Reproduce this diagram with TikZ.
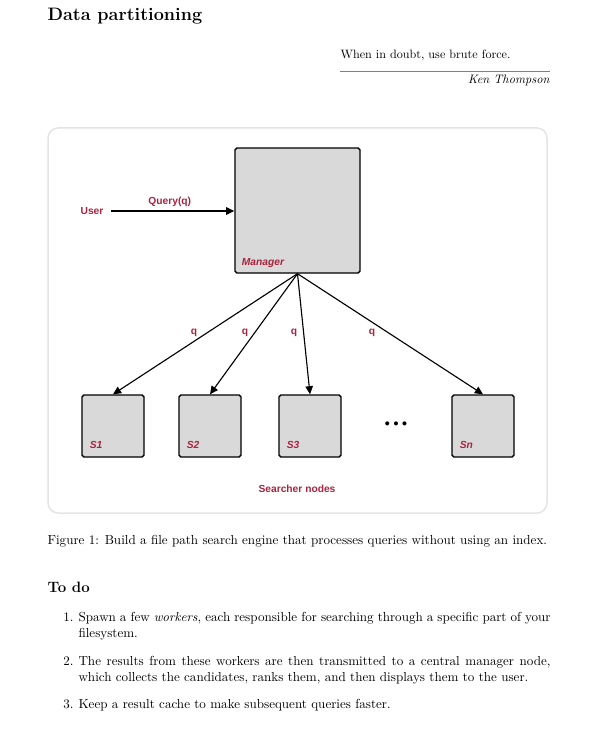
\documentclass[tikz,border=0pt]{standalone}
\usepackage{fontspec}
\setmainfont{Latin Modern Roman}
\newfontfamily\diagfont{Liberation Sans}
\usetikzlibrary{arrows.meta}

\definecolor{labelred}{RGB}{168,35,62}
\definecolor{boxgray}{RGB}{217,217,217}
\definecolor{framegray}{RGB}{228,228,228}

\begin{document}
\begin{tikzpicture}[x=0.8pt, y=-0.8pt, line width=0.9pt,
    >={Triangle[length=6.5pt, width=6pt]},
    box/.style={draw, fill=boxgray, rounded corners=1.5pt, line width=1.1pt, inner sep=0pt},
    lbl/.style={text=labelred, font=\diagfont\bfseries\fontsize{8.2}{9}\selectfont, inner sep=1pt},
    boxlbl/.style={lbl, font=\diagfont\bfseries\itshape\fontsize{8.2}{9}\selectfont, anchor=base west, inner sep=0pt},
    txt/.style={anchor=base west, inner sep=0pt, font=\fontsize{10.45}{12.5}\selectfont},
    num/.style={txt, anchor=base east}]

    \useasboundingbox (0,0) rectangle (589,743);

    % Page text
    \node (title) [txt, font=\Large\bfseries] at (47,21) {Data partitioning};
    \node (quote) [txt, font=\fontsize{9.7}{12}\selectfont] at (340,59) {When in doubt, use brute force.};
    \coordinate (rulel) at (340,71);
    \coordinate (ruler) at (550,71);
    \draw[gray, line width=0.5pt] (rulel) -- (ruler);
    \node (author) [txt, anchor=base east, font=\fontsize{9.8}{12}\selectfont\itshape] at (550,84) {Ken Thompson};

    % Figure frame
    \draw[framegray, line width=1.2pt, rounded corners=8pt] (48,128) rectangle (547,513);

    % Node definitions
    \node (user) [lbl] at (92,211) {User};
    \node (mgr) [box, minimum width=100pt, minimum height=100pt] at (297.5,210.5) {};
    \node (s1) [box, minimum size=49.6pt] at (113,426) {};
    \node (s2) [box, minimum size=49.6pt] at (210,426) {};
    \node (s3) [box, minimum size=49.6pt] at (310,426) {};
    \node (sn) [box, minimum size=49.6pt] at (483,426) {};
    \node (dots) [inner sep=0pt, font=\fontsize{12}{12}\selectfont] at (396,425) {\textbullet\kern-2.2pt\textbullet\kern-2.2pt\textbullet};

    % Box labels
    \node (mgrlbl) [boxlbl] at ([shift={(7,-8)}]mgr.south west) {Manager};
    \node (s1lbl) [boxlbl] at ([shift={(8,-9)}]s1.south west) {S1};
    \node (s2lbl) [boxlbl] at ([shift={(8,-9)}]s2.south west) {S2};
    \node (s3lbl) [boxlbl] at ([shift={(8,-9)}]s3.south west) {S3};
    \node (snlbl) [boxlbl] at ([shift={(8,-9)}]sn.south west) {Sn};
    \node (searchers) [lbl] at (297,489) {Searcher nodes};

    % Edge definitions
    \draw[->, shorten <=5pt] (user.east) -- (user.east -| mgr.west) node[midway, lbl, above=2pt] {Query(q)};
    \draw[->] (mgr.south) -- (s1.north) node[pos=0.49, lbl, xshift=-10.4pt] {q};
    \draw[->] (mgr.south) -- (s2.north) node[pos=0.49, lbl, xshift=-7.7pt] {q};
    \draw[->] (mgr.south) -- (s3.north) node[pos=0.49, lbl, xshift=-7.7pt] {q};
    \draw[->] (mgr.south) -- (sn.north) node[pos=0.49, lbl, xshift=-13.1pt] {q};

    % Caption and list
    \node (caption) [txt] at (47,544) {Figure 1: Build a file path search engine that processes queries without using an index.};
    \node (todo) [txt, font=\large\bfseries] at (47,592) {To do};

    \node (n1) [num] at (74,621) {1.};
    \node (i1a) [txt] at (78,621) {\makebox[377.6pt][s]{Spawn a few \emph{workers}, each responsible for searching through a specific part of your}};
    \node (i1b) [txt] at (78,637) {filesystem.};
    \node (n2) [num] at (74,665) {2.};
    \node (i2a) [txt] at (78,665) {\makebox[377.6pt][s]{The results from these workers are then transmitted to a central manager node,}};
    \node (i2b) [txt] at (78,681) {which collects the candidates, ranks them, and then displays them to the user.};
    \node (n3) [num] at (74,708) {3.};
    \node (i3) [txt] at (78,708) {Keep a result cache to make subsequent queries faster.};
\end{tikzpicture}
\end{document}
